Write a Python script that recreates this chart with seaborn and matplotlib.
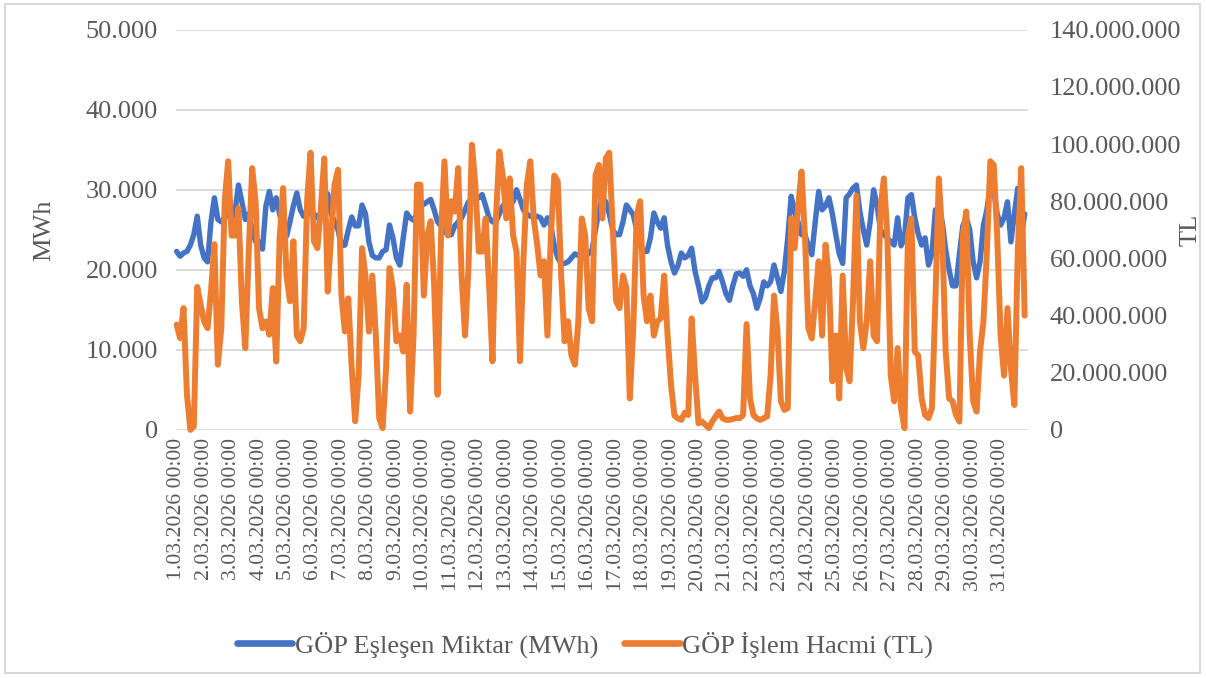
import numpy as np
import matplotlib
matplotlib.use("Agg")
import matplotlib.pyplot as plt
from matplotlib.lines import Line2D
from matplotlib.patches import Rectangle
import seaborn as sns

# March 2026, values read every 3 hours (8 per day, one row = one day)
days = list(range(1, 32))
hours = np.arange(0, 744, 3)

# GÖP Eşleşen Miktar, thousand MWh
eslesen_k = [
    22.3, 21.7, 22.1, 22.3, 23.1, 24.4, 26.7, 23.1,
    21.5, 21.0, 26.0, 29.0, 26.3, 26.0, 26.5, 27.0,
    26.5, 27.3, 30.6, 28.5, 26.3, 27.0, 25.0, 23.5,
    23.5, 22.6, 28.0, 29.8, 27.5, 29.0, 27.0, 25.0,
    24.2, 26.0, 28.0, 29.6, 27.5, 26.7, 27.0, 27.0,
    27.0, 26.5, 27.0, 28.0, 29.5, 27.0, 26.0, 25.0,
    23.0, 23.1, 25.0, 26.6, 25.5, 25.5, 28.1, 27.0,
    23.5, 21.8, 21.5, 21.5, 22.3, 22.5, 25.6, 24.0,
    21.5, 20.6, 24.0, 27.1, 26.5, 26.2, 27.0, 28.0,
    28.2, 28.5, 28.8, 27.5, 26.0, 25.5, 24.8, 24.4,
    24.4, 25.5, 26.0, 26.5, 27.5, 28.5, 28.5, 28.8,
    29.0, 29.4, 28.0, 26.5, 26.0, 26.0, 27.0, 28.0,
    28.5, 29.5, 28.5, 30.0, 28.8, 27.5, 27.0, 26.7,
    26.7, 26.7, 26.5, 25.6, 26.5, 25.5, 23.0, 21.5,
    20.8, 20.8, 21.0, 21.5, 22.0, 21.8, 22.0, 22.0,
    22.0, 22.5, 25.0, 27.5, 29.0, 28.5, 27.0, 25.0,
    24.4, 24.4, 26.0, 28.1, 27.5, 26.9, 25.0, 23.0,
    22.3, 22.3, 24.0, 27.1, 26.0, 25.2, 26.5, 23.0,
    21.0, 19.6, 20.5, 22.1, 21.5, 21.8, 22.7, 19.8,
    18.0, 16.0, 16.5, 18.0, 19.0, 19.0, 19.8, 18.5,
    17.0, 16.2, 18.0, 19.5, 19.6, 19.2, 20.0, 18.0,
    17.0, 15.2, 16.5, 18.5, 18.0, 18.5, 20.6, 19.0,
    17.3, 19.8, 24.0, 29.2, 27.3, 26.0, 24.4, 24.4,
    23.0, 21.9, 26.0, 29.8, 27.5, 28.0, 29.0, 27.0,
    24.4, 22.0, 20.8, 29.0, 29.5, 30.2, 30.6, 27.3,
    25.0, 23.1, 26.0, 30.0, 28.1, 25.0, 24.4, 24.0,
    23.5, 23.1, 26.5, 23.0, 24.0, 29.0, 29.4, 26.5,
    24.5, 23.1, 24.0, 20.6, 22.0, 27.5, 27.5, 26.0,
    22.5, 20.0, 18.0, 18.0, 22.0, 25.5, 26.5, 25.0,
    21.0, 19.0, 21.0, 25.6, 27.5, 30.6, 30.0, 27.0,
    25.6, 26.5, 28.5, 23.5, 27.0, 30.2, 24.0, 27.0,
]

# GÖP İşlem Hacmi, million TL
hacim_m = [
    36.8, 32.1, 42.6, 12.3, 0.0, 1.2, 50.0, 43.7,
    37.9, 35.6, 48.4, 65.0, 22.8, 35.6, 80.0, 94.0,
    68.0, 68.0, 77.6, 45.0, 28.6, 62.4, 91.6, 80.0,
    42.6, 35.6, 37.9, 33.3, 49.6, 23.9, 67.0, 84.6,
    54.0, 45.0, 66.0, 33.0, 31.0, 35.6, 80.0, 97.0,
    66.0, 63.6, 77.6, 95.0, 48.4, 68.0, 85.8, 91.0,
    47.0, 34.4, 46.0, 21.6, 3.0, 19.0, 63.6, 54.0,
    34.4, 54.0, 33.3, 4.0, 0.6, 21.6, 56.6, 49.6,
    31.0, 33.0, 27.4, 50.8, 6.4, 33.0, 85.8, 85.8,
    47.0, 68.0, 73.0, 50.8, 12.3, 68.0, 94.0, 68.0,
    80.0, 76.4, 91.6, 54.0, 33.0, 56.6, 99.8, 85.8,
    62.4, 62.4, 74.0, 50.8, 24.0, 74.0, 97.4, 89.0,
    74.0, 88.0, 68.0, 62.4, 24.0, 59.0, 85.8, 94.0,
    74.0, 65.0, 54.0, 59.0, 33.0, 68.0, 89.0, 87.0,
    54.0, 31.0, 38.0, 26.0, 22.8, 38.0, 74.0, 68.0,
    42.6, 38.0, 89.0, 92.7, 74.0, 95.0, 97.0, 70.6,
    45.0, 42.6, 54.0, 49.6, 11.0, 35.6, 75.0, 80.0,
    47.0, 38.0, 47.0, 33.0, 38.0, 39.0, 54.0, 33.0,
    15.7, 5.0, 4.0, 3.5, 6.0, 5.2, 39.0, 19.0,
    2.3, 2.9, 1.8, 0.6, 2.9, 4.7, 6.4, 4.1,
    3.5, 3.5, 3.8, 4.1, 4.1, 5.2, 37.0, 11.0,
    5.2, 4.0, 3.5, 4.1, 4.7, 19.0, 47.0, 34.4,
    10.0, 7.0, 7.6, 74.0, 63.6, 77.6, 90.4, 68.0,
    35.6, 32.0, 45.0, 59.0, 33.0, 64.8, 53.0, 17.0,
    33.0, 11.0, 54.0, 21.6, 17.0, 45.0, 82.0, 38.0,
    28.6, 38.0, 59.0, 33.0, 31.0, 77.6, 88.0, 68.0,
    19.0, 10.0, 28.6, 7.6, 0.6, 68.0, 74.0, 27.4,
    26.0, 11.0, 5.2, 4.1, 7.6, 45.0, 88.0, 68.0,
    27.4, 11.0, 10.0, 5.2, 2.9, 68.0, 76.4, 33.0,
    10.0, 6.4, 27.4, 38.0, 62.4, 94.0, 92.7, 68.0,
    33.0, 19.0, 42.6, 21.6, 8.7, 62.4, 91.6, 40.0,
]

date_labels = [f"{d}.03.2026 00:00" for d in days]

BLUE = "#4472C4"
ORANGE = "#ED7D31"
TXT = "#595959"
GRID = "#d9d9d9"

sns.set_theme(style="white")
plt.rcParams["font.family"] = ["Liberation Serif", "DejaVu Serif"]

def dots(v, pos=None):
    return f"{int(round(v)):,}".replace(",", ".")

fig = plt.figure(figsize=(12.06, 6.78), dpi=100)
ax = fig.add_axes([0.146, 0.366, 0.706, 0.590])
ax2 = ax.twinx()

sns.lineplot(x=hours, y=np.array(eslesen_k) * 1000, ax=ax, color=BLUE, linewidth=3.9)
sns.lineplot(x=hours, y=np.array(hacim_m) * 1e6, ax=ax2, color=ORANGE, linewidth=4.3)
for a in (ax, ax2):
    for ln in a.lines:
        ln.set_clip_on(False)
        ln.set_solid_joinstyle("round")
        ln.set_solid_capstyle("round")

ax.set_xlim(-0.5, 743.5)
ax.set_ylim(0, 50000)
ax2.set_ylim(0, 140e6)
ax.set_yticks(np.arange(0, 50001, 10000))
ax2.set_yticks(np.arange(0, 140e6 + 1, 20e6))
ax.yaxis.set_major_formatter(plt.FuncFormatter(dots))
ax2.yaxis.set_major_formatter(plt.FuncFormatter(dots))
ax.set_xticks(np.arange(0, 744, 24))
ax.set_xticklabels(date_labels, rotation=90)

ax.yaxis.grid(True, color=GRID, linewidth=1.3)
ax.xaxis.grid(False)
ax2.grid(False)
for a in (ax, ax2):
    for s in a.spines.values():
        s.set_visible(False)

ax.tick_params(axis="y", length=0, labelsize=19, labelcolor=TXT, pad=13)
ax2.tick_params(axis="y", length=0, labelsize=19, labelcolor=TXT, pad=16)
ax.tick_params(axis="x", length=0, labelsize=15.7, labelcolor=TXT, pad=6)

ax.set_xlabel("")
ax.set_ylabel("MWh", fontsize=19, color=TXT)
ax2.set_ylabel("TL", fontsize=19, color=TXT, rotation=90)
ax.yaxis.set_label_coords(-0.142, 0.5)
ax2.yaxis.set_label_coords(1.178, 0.5)

handles = [Line2D([], [], color=BLUE, lw=4.8, solid_capstyle="round"),
           Line2D([], [], color=ORANGE, lw=4.8, solid_capstyle="round")]
leg = fig.legend(handles, ["GÖP Eşleşen Miktar (MWh)", "GÖP İşlem Hacmi (TL)"],
                 loc="center", bbox_to_anchor=(0.485, 0.049), ncol=2, frameon=False,
                 fontsize=19, handlelength=2.1, handletextpad=0.08, columnspacing=1.0)
for t in leg.get_texts():
    t.set_color(TXT)

fig.add_artist(Rectangle((0.004, 0.007), 0.991, 0.987, transform=fig.transFigure,
                         fill=False, edgecolor=GRID, linewidth=1.5))

fig.savefig("out.png", dpi=100)
